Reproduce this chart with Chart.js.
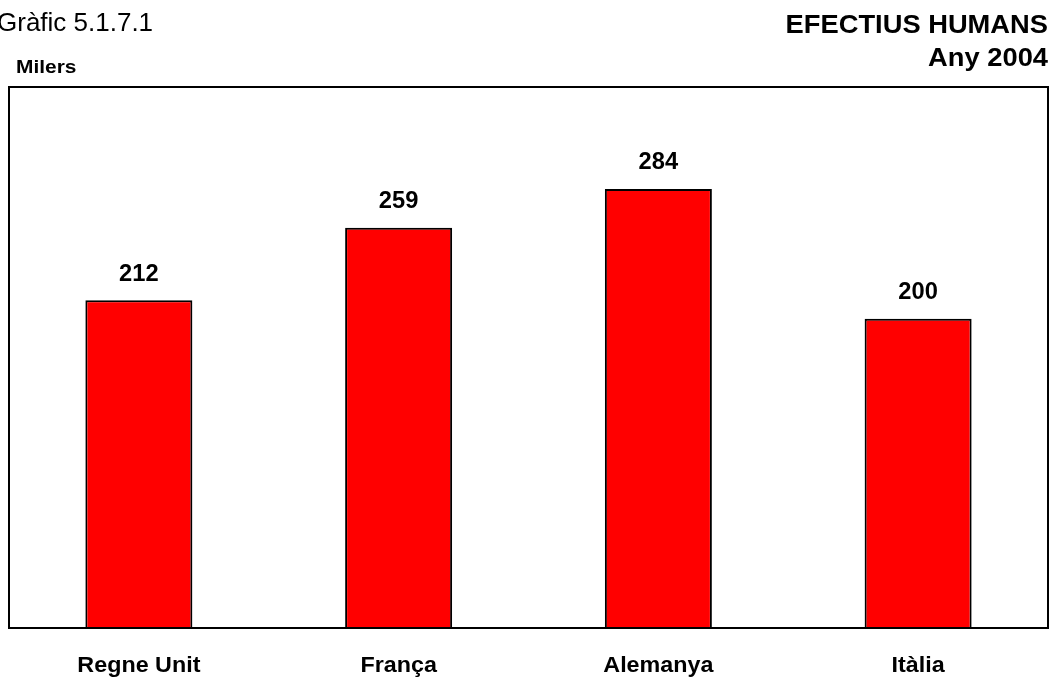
<!DOCTYPE html>
<html>
<head>
<meta charset="utf-8">
<script src="https://cdn.jsdelivr.net/npm/chart.js@4"></script>
<style>
  html, body { margin: 0; padding: 0; background: #fff; }
  #wrap { width: 1054px; height: 679px; position: relative; }
</style>
</head>
<body>
<div id="wrap"><canvas id="efectius"></canvas></div>
<script>
const paisos = ['Regne Unit', 'França', 'Alemanya', 'Itàlia'];
const milers = [212, 259, 284, 200];

const FONT = '"Liberation Sans", Arial, sans-serif';

// text slightly widened, like the original Arial output
function text(ctx, str, x, y, stretch) {
  ctx.save();
  ctx.translate(x, y);
  ctx.scale(stretch, 1);
  ctx.fillText(str, 0, 0);
  ctx.restore();
}

// titles, frame and labels drawn around the bars
const decor = {
  id: 'decor',
  afterDatasetsDraw(chart) {
    const ctx = chart.ctx;
    const area = chart.chartArea;
    ctx.save();

    ctx.strokeStyle = '#000';
    ctx.lineWidth = 2;
    ctx.strokeRect(area.left, area.top, area.right - area.left, area.bottom - area.top);

    ctx.fillStyle = '#000';
    ctx.textBaseline = 'alphabetic';
    ctx.textAlign = 'left';
    ctx.font = '26px ' + FONT;
    text(ctx, 'Gràfic 5.1.7.1', -3, 31, 1);
    ctx.font = 'bold 19px ' + FONT;
    text(ctx, 'Milers', 16, 73, 1.1);

    ctx.textAlign = 'right';
    ctx.font = 'bold 26px ' + FONT;
    text(ctx, 'EFECTIUS HUMANS', 1048, 33, 1.05);
    text(ctx, 'Any 2004', 1048, 66, 1.05);

    ctx.textAlign = 'center';
    ctx.textBaseline = 'middle';
    const meta = chart.getDatasetMeta(0);
    meta.data.forEach((bar, i) => {
      ctx.font = 'bold 23px ' + FONT;
      text(ctx, String(milers[i]), bar.x, bar.y - 26, 1.03);
      ctx.font = 'bold 22px ' + FONT;
      text(ctx, paisos[i], bar.x, 666, 1.06);
    });
    ctx.restore();
  }
};

new Chart(document.getElementById('efectius'), {
  type: 'bar',
  data: {
    labels: paisos,
    datasets: [{
      data: milers,
      backgroundColor: '#ff0000',
      borderColor: '#000',
      borderWidth: 2,
      categoryPercentage: 1,
      barPercentage: 0.412
    }]
  },
  options: {
    responsive: true,
    maintainAspectRatio: false,
    animation: false,
    layout: { padding: { left: 9, right: 6, top: 87, bottom: 51 } },
    plugins: { legend: { display: false }, tooltip: { enabled: false } },
    scales: {
      x: { display: false },
      y: { display: false, min: 0, max: 350 }
    }
  },
  plugins: [decor]
});
</script>
</body>
</html>
